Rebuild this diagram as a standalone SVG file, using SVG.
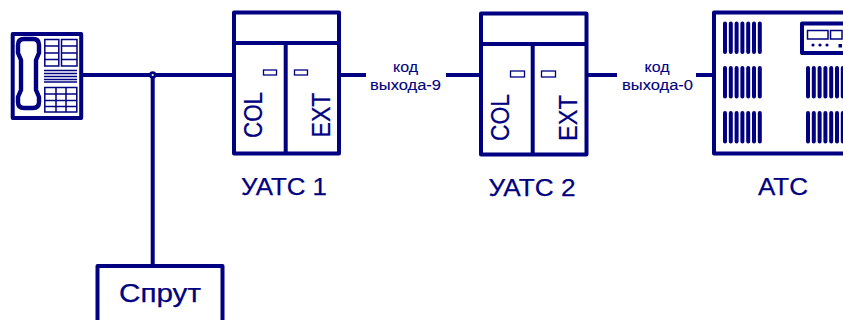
<svg xmlns="http://www.w3.org/2000/svg" width="843" height="320" viewBox="0 0 843 320">
<style>
.b{fill:none;stroke:#000080;stroke-width:4;stroke-linejoin:round}
.t{fill:none;stroke:#000080;stroke-width:1.5}
.w{fill:#fff;stroke:#000080;stroke-width:1.3}
text{font-family:"Liberation Sans",Arial,sans-serif;fill:#000080;stroke:#000080;stroke-width:.25}
.l{font-size:24px;text-anchor:middle}
.s{font-size:14px;text-anchor:middle;stroke-width:.1}
.bar{stroke:#000080;stroke-width:4;stroke-linecap:round;fill:none}
</style>
<defs>
<path id="bars" d="M2 2V30.500M7.800 2V30.500M13.600 2V30.500M19.400 2V30.500M25.200 2V30.500M31 2V30.500M36.800 2V30.500" class="bar"/>
</defs>
<rect width="843" height="320" fill="#fff"/>
<g id="connectors">
<path class="b" d="M83 75H234M152.700 75V266M339 75H366M446 75H481M586 75H617M696 75H714"/>
<circle cx="152.700" cy="75" r="2.400" fill="#fff" stroke="#000080" stroke-width="2.600"/>
</g>
<g id="phone">
<rect class="b" x="12.700" y="34" width="68.500" height="84"/>
<path class="b" style="stroke-width:4.400" d="M24 39H33Q39 39 39 45V53L36 60V90L39 97V102Q39 108 33 108H24Q18 108 18 102V97L21 90V60L18 53V45Q18 39 24 39Z"/>
<rect class="t" x="44.800" y="39.500" width="14" height="26.500"/>
<rect class="t" x="61.500" y="39.500" width="15.500" height="26.500"/>
<path class="t" d="M44.800 46H58.800M44.800 53H58.800M44.800 59.500H58.800M61.500 46H77M61.500 53H77M61.500 59.500H77"/>
<path class="t" d="M44 70.500H77M44 73.500H77M44 76.500H77M44 79.500H77M44 82H77"/>
<rect class="t" x="44.800" y="87.500" width="32" height="24.500"/>
<path class="t" d="M56 87.500V112M66 87.500V112M44.800 94H76.800M44.800 100.500H76.800M44.800 106.500H76.800"/>
</g>
<g id="uats1">
<rect class="b" x="234" y="12.500" width="105" height="141"/>
<path class="b" d="M234 43H339M285.700 43V153"/>
<rect class="w" x="263.500" y="70" width="13" height="5"/>
<rect class="w" x="294.500" y="70" width="13" height="5"/>
<text transform="translate(262 138) rotate(-90)" font-size="26" textLength="46" lengthAdjust="spacingAndGlyphs">COL</text>
<text transform="translate(330 137.500) rotate(-90)" font-size="26" textLength="45" lengthAdjust="spacingAndGlyphs">EXT</text>
<text class="l" x="284" y="195" textLength="86" lengthAdjust="spacingAndGlyphs">УАТС 1</text>
</g>
<g id="uats2">
<rect class="b" x="481" y="13.500" width="105.500" height="141"/>
<path class="b" d="M481 44H586M532.700 44V154"/>
<rect class="w" x="510.500" y="71" width="14" height="6"/>
<rect class="w" x="541.500" y="71" width="14" height="6"/>
<text transform="translate(508.500 141) rotate(-90)" font-size="26" textLength="47" lengthAdjust="spacingAndGlyphs">COL</text>
<text transform="translate(577 141) rotate(-90)" font-size="26" textLength="46" lengthAdjust="spacingAndGlyphs">EXT</text>
<text class="l" x="532" y="196" textLength="87" lengthAdjust="spacingAndGlyphs">УАТС 2</text>
</g>
<g id="ats">
<path class="b" d="M843 12.500H714V153.500H843"/>
<use href="#bars" x="723" y="21.500"/>
<use href="#bars" x="723" y="66"/>
<use href="#bars" x="723" y="111"/>
<use href="#bars" x="806" y="66"/>
<use href="#bars" x="806" y="111"/>
<path class="b" d="M843 23.500H802V53H843"/>
<rect class="t" x="807.500" y="30.500" width="20.500" height="8.500"/>
<rect class="t" x="830.500" y="30.500" width="11.500" height="8.500"/>
<circle cx="813" cy="45" r="1.600" fill="#000080"/>
<circle cx="820" cy="45" r="1.600" fill="#000080"/>
<circle cx="827" cy="45" r="1.600" fill="#000080"/>
<rect x="838.500" y="44" width="3.500" height="3.500" fill="#000080"/>
<text class="l" x="783" y="195" textLength="50" lengthAdjust="spacingAndGlyphs">АТС</text>
</g>
<g id="sprut">
<path class="b" d="M97.500 320V266H222.500V320"/>
<text class="l" x="160" y="302" style="font-size:26px" textLength="82" lengthAdjust="spacingAndGlyphs">Спрут</text>
</g>
<g id="label9"><text class="s" x="405.500" y="72" textLength="25" lengthAdjust="spacingAndGlyphs">код</text><text class="s" x="405.500" y="90" textLength="71" lengthAdjust="spacingAndGlyphs">выхода-9</text></g>
<g id="label0"><text class="s" x="657" y="72" textLength="25" lengthAdjust="spacingAndGlyphs">код</text><text class="s" x="657.500" y="90" textLength="71" lengthAdjust="spacingAndGlyphs">выхода-0</text></g>
</svg>
